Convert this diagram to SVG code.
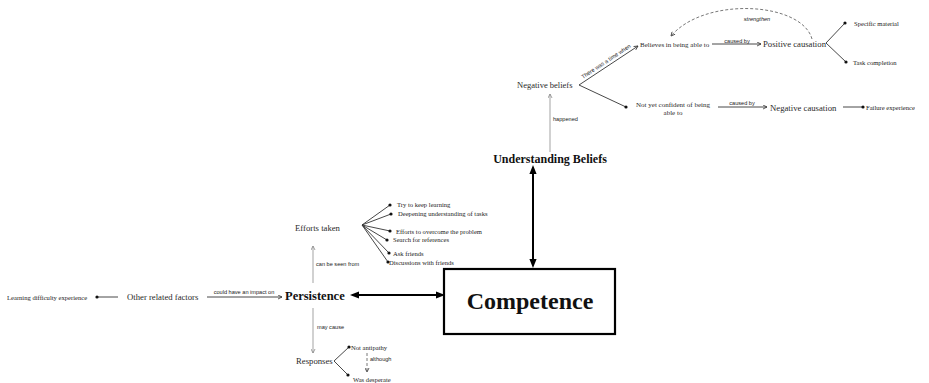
<svg xmlns="http://www.w3.org/2000/svg" width="929" height="383" viewBox="0 0 929 383">
  <style>
    .node { font-family: "Liberation Serif", "DejaVu Serif", serif; fill: #2a2a2a; }
    .main { font-family: "Liberation Serif", "DejaVu Serif", serif; font-weight: bold; fill: #111; }
    .leaf { font-family: "Liberation Serif", "DejaVu Serif", serif; font-size: 6.6px; fill: #222; }
    .lbl { font-family: "Liberation Sans", "DejaVu Sans", sans-serif; font-size: 5.6px; fill: #1a1a1a; }
    .thin { fill: none; stroke: #333; stroke-width: 0.9; }
    .grey { fill: none; stroke: #999; stroke-width: 0.9; }
    .thick { fill: none; stroke: #000; stroke-width: 2; }
    .dash { fill: none; stroke: #555; stroke-width: 0.8; stroke-dasharray: 3 2; }
    .dot { fill: #111; }
    .sheet { opacity: 0.995; }
  </style>
  <defs>
    <marker id="open" viewBox="0 0 10 10" refX="9" refY="5" markerWidth="5" markerHeight="5" orient="auto" markerUnits="userSpaceOnUse">
      <path d="M1,1 L9,5 L1,9" fill="none" stroke="#333" stroke-width="1.6"/>
    </marker>
    <marker id="openGrey" viewBox="0 0 10 10" refX="9" refY="5" markerWidth="5" markerHeight="5" orient="auto" markerUnits="userSpaceOnUse">
      <path d="M1,1 L9,5 L1,9" fill="none" stroke="#888" stroke-width="1.6"/>
    </marker>
    <marker id="solid" viewBox="0 0 10 10" refX="7" refY="5" markerWidth="9" markerHeight="9" orient="auto-start-reverse" markerUnits="userSpaceOnUse">
      <path d="M0,1 L10,5 L0,9 Z" fill="#000"/>
    </marker>
  </defs>

  <g class="sheet">
  <!-- connectors -->
  <g id="connectors">
    <!-- thick links around the core -->
    <line class="thick" x1="533" y1="167.7" x2="533" y2="265.3" marker-start="url(#solid)" marker-end="url(#solid)"/>
    <line class="thick" x1="352.7" y1="295" x2="442.3" y2="295" marker-start="url(#solid)" marker-end="url(#solid)"/>

    <!-- beliefs branch -->
    <line class="grey" x1="550" y1="152" x2="550" y2="94" marker-end="url(#openGrey)"/>
    <text class="lbl" x="553" y="121">happened</text>
    <line class="thin" x1="579" y1="85" x2="638" y2="46" marker-end="url(#open)"/>
    <text class="lbl" text-anchor="middle" transform="translate(607 63) rotate(-33.5)">There was a time when</text>
    <line class="thin" x1="579" y1="85" x2="626" y2="107"/>
    <line class="thin" stroke="#111" x1="712" y1="44" x2="761" y2="44" marker-end="url(#open)"/>
    <text class="lbl" text-anchor="middle" x="737" y="42.5">caused by</text>
    <path class="dash" d="M812 39 C802 2 705 -4 671 36" marker-end="url(#open)"/>
    <text class="lbl" text-anchor="middle" x="757" y="21" font-style="italic">strengthen</text>
    <line class="thin" x1="826" y1="43" x2="845" y2="23"/>
    <line class="thin" x1="826" y1="43" x2="846" y2="62"/>
    <line class="thin" stroke="#111" x1="718" y1="107" x2="767" y2="107" marker-end="url(#open)"/>
    <text class="lbl" text-anchor="middle" x="742" y="105">caused by</text>
    <line class="thin" x1="843" y1="107" x2="863" y2="107"/>

    <!-- persistence branch -->
    <line class="thin" x1="97" y1="297" x2="118" y2="297"/>
    <line class="thin" stroke="#111" x1="207" y1="297" x2="282" y2="297" marker-end="url(#open)"/>
    <text class="lbl" text-anchor="middle" x="244" y="294">could have an impact on</text>
    <line class="grey" stroke="#888" x1="313" y1="283" x2="313" y2="246" marker-end="url(#openGrey)"/>
    <text class="lbl" x="316" y="266">can be seen from</text>
    <g class="thin">
      <line x1="362" y1="225" x2="390" y2="205"/>
      <line x1="362" y1="225" x2="391" y2="214"/>
      <line x1="362" y1="225" x2="390" y2="231"/>
      <line x1="362" y1="225" x2="387" y2="240"/>
      <line x1="362" y1="225" x2="389" y2="253"/>
      <line x1="362" y1="225" x2="388" y2="262"/>
    </g>
    <line class="grey" stroke="#888" x1="313" y1="308" x2="313" y2="353" marker-end="url(#openGrey)"/>
    <text class="lbl" x="317" y="329">may cause</text>
    <line class="thin" x1="334" y1="361" x2="349" y2="347"/>
    <line class="thin" x1="334" y1="361" x2="348" y2="375"/>
    <line class="dash" x1="367" y1="353" x2="367" y2="372" marker-end="url(#open)"/>
    <text class="lbl" x="370" y="361">although</text>

    <!-- end dots -->
    <g class="dot">
      <circle cx="626" cy="107" r="1.6"/>
      <circle cx="845" cy="23" r="1.6"/>
      <circle cx="846" cy="62" r="1.6"/>
      <circle cx="863" cy="107" r="1.6"/>
      <circle cx="97" cy="297" r="1.6"/>
      <circle cx="390" cy="205" r="1.6"/>
      <circle cx="391" cy="214" r="1.6"/>
      <circle cx="390" cy="231" r="1.6"/>
      <circle cx="387" cy="240" r="1.6"/>
      <circle cx="389" cy="253" r="1.6"/>
      <circle cx="388" cy="262" r="1.6"/>
      <circle cx="349" cy="347" r="1.6"/>
      <circle cx="348" cy="375" r="1.6"/>
    </g>
  </g>

  <!-- core node -->
  <g id="competence">
    <rect x="444" y="269" width="171" height="65" fill="#fff" stroke="#000" stroke-width="2.2"/>
    <text class="main" x="530" y="309" font-size="24" text-anchor="middle">Competence</text>
  </g>

  <g id="understanding-beliefs">
    <text class="main" x="550" y="163" font-size="12" text-anchor="middle">Understanding Beliefs</text>
  </g>
  <g id="negative-beliefs">
    <text class="node" x="517" y="88" font-size="8.5">Negative beliefs</text>
  </g>
  <g id="believes-able">
    <text class="node" x="640" y="47" font-size="7">Believes in being able to</text>
  </g>
  <g id="positive-causation">
    <text class="node" x="763" y="47" font-size="8.7">Positive causation</text>
  </g>
  <g id="specific-material">
    <text class="leaf" x="854" y="25.5">Specific material</text>
  </g>
  <g id="task-completion">
    <text class="leaf" x="853" y="64.5">Task completion</text>
  </g>
  <g id="not-yet-confident">
    <text class="node" font-size="7" text-anchor="middle"><tspan x="673" y="106.5">Not yet confident of being</tspan><tspan x="673" y="115">able to</tspan></text>
  </g>
  <g id="negative-causation">
    <text class="node" x="770" y="111" font-size="8.7">Negative causation</text>
  </g>
  <g id="failure-experience">
    <text class="leaf" x="866" y="109.5">Failure experience</text>
  </g>

  <g id="persistence">
    <text class="main" x="285" y="300" font-size="12.5">Persistence</text>
  </g>
  <g id="learning-difficulty">
    <text class="leaf" x="7" y="299.5">Learning difficulty experience</text>
  </g>
  <g id="other-factors">
    <text class="node" x="127" y="299.5" font-size="8.7">Other related factors</text>
  </g>
  <g id="efforts-taken">
    <text class="node" x="295" y="231" font-size="8.7">Efforts taken</text>
  </g>
  <g id="efforts-items">
    <text class="leaf" x="397" y="207">Try to keep learning</text>
    <text class="leaf" x="398" y="216">Deepening understanding of tasks</text>
    <text class="leaf" x="396" y="233.5">Efforts to overcome the problem</text>
    <text class="leaf" x="393" y="242">Search for references</text>
    <text class="leaf" x="393" y="255.5">Ask friends</text>
    <text class="leaf" x="389" y="264.5">Discussions with friends</text>
  </g>
  <g id="responses">
    <text class="node" x="296" y="364" font-size="8.7">Responses</text>
  </g>
  <g id="not-antipathy">
    <text class="leaf" x="351" y="349.5">Not antipathy</text>
  </g>
  <g id="was-desperate">
    <text class="leaf" x="353" y="381.5">Was desperate</text>
  </g>
  </g>
</svg>
